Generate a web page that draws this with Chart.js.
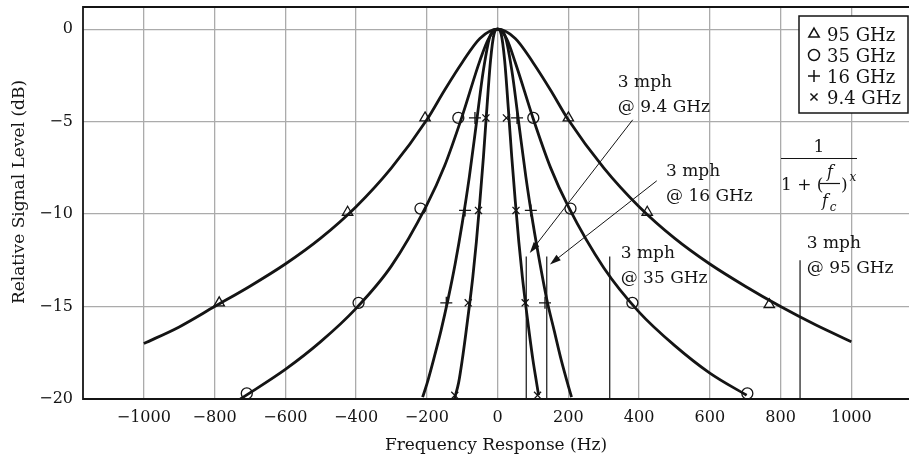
<!DOCTYPE html>
<html>
<head>
<meta charset="utf-8">
<script src="https://cdn.jsdelivr.net/npm/chart.js@4.4.1/dist/chart.umd.min.js"></script>
<style>
  html, body { margin: 0; padding: 0; background: #fff; }
  #wrap { width: 909px; height: 460px; }
</style>
</head>
<body>
<div id="wrap"><canvas id="chart" width="909" height="460"></canvas></div>
<script>
// axis ticks
const xTickValues = [-1000, -800, -600, -400, -200, 0, 200, 400, 600, 800, 1000];
const yTickValues = [-20, -15, -10, -5, 0];

// 95 GHz curve (triangles)
const freq95 = [-1000, -900, -800, -700, -600, -500, -400, -300, -200, -150, -100, -50, 0, 50, 100, 150, 200, 300, 400, 500, 600, 700, 800, 900, 1000];
const level95 = [-17.0, -16.1, -15.0, -13.9, -12.7, -11.3, -9.6, -7.5, -4.9, -3.3, -1.8, -0.5, 0, -0.5, -1.8, -3.3, -4.9, -7.5, -9.6, -11.3, -12.7, -13.9, -15.0, -16.0, -16.9];
const mark95X = [-787, -424, -205, 200, 423, 768];
const mark95Y = [-14.8, -9.9, -4.8, -4.8, -9.9, -14.9];

// 35 GHz curve (circles)
const freq35 = [-727, -600, -500, -400, -300, -200, -150, -100, -50, -25, 0, 25, 50, 100, 150, 200, 300, 400, 500, 600, 704];
const level35 = [-20.0, -18.4, -16.9, -15.1, -12.8, -9.5, -7.4, -4.7, -1.7, -0.5, 0, -0.5, -1.8, -4.8, -7.5, -9.6, -12.9, -15.3, -17.1, -18.6, -19.8];
const mark35X = [-709, -393, -218, -111, 101, 206, 381, 706];
const mark35Y = [-19.7, -14.8, -9.7, -4.8, -4.8, -9.7, -14.8, -19.7];

// 16 GHz curve (plus)
const freq16 = [-212, -200, -180, -160, -140, -120, -100, -80, -60, -40, -20, 0, 20, 40, 60, 80, 100, 120, 140, 160, 180, 200, 209];
const level16 = [-19.9, -19.2, -17.8, -16.3, -14.6, -12.7, -10.5, -8.0, -5.1, -2.2, -0.3, 0, -0.3, -2.2, -5.1, -8.0, -10.5, -12.7, -14.7, -16.3, -17.9, -19.3, -19.9];
const mark16X = [-145, -92, -64, 55, 94, 134];
const mark16Y = [-14.8, -9.8, -4.8, -4.8, -9.8, -14.8];

// 9.4 GHz curve (x)
const freq94 = [-122, -110, -100, -90, -80, -70, -60, -50, -40, -30, -20, -10, 0, 10, 20, 30, 40, 50, 60, 70, 80, 90, 100, 110, 116];
const level94 = [-20.0, -19.1, -17.9, -16.5, -15.0, -13.4, -11.5, -9.3, -6.9, -4.2, -1.7, -0.25, 0, -0.25, -1.7, -4.2, -6.9, -9.3, -11.5, -13.4, -15.0, -16.5, -17.9, -19.1, -19.8];
const mark94X = [-121, -83, -54, -33, 25, 52, 78, 113];
const mark94Y = [-19.8, -14.8, -9.8, -4.8, -4.8, -9.8, -14.8, -19.8];

// 3 mph doppler markers
const dopplerFreq = [81, 139, 317, 855];
const dopplerTop = [-12.3, -12.3, -12.3, -12.5];

const legendLabels = ['95 GHz', '35 GHz', '16 GHz', '9.4 GHz'];
const legendStyles = ['triangle', 'circle', 'cross', 'crossRot'];

const SERIF = "'DejaVu Serif', serif";
const INK = '#141414';

const toPoints = (xs, ys) => xs.map((x, i) => ({ x, y: ys[i] }));

function curve(xs, ys) {
    return {
        data: toPoints(xs, ys),
        showLine: true,
        borderColor: INK,
        borderWidth: 2.8,
        pointRadius: 0,
        cubicInterpolationMode: 'monotone'
    };
}

function markers(xs, ys, style, radius) {
    return {
        data: toPoints(xs, ys),
        showLine: false,
        pointStyle: style,
        pointRadius: radius,
        pointBorderColor: INK,
        pointBackgroundColor: 'rgba(0,0,0,0)',
        pointBorderWidth: 1.3,
        clip: false
    };
}

const datasets = [
    curve(freq95, level95),
    curve(freq35, level35),
    curve(freq16, level16),
    curve(freq94, level94),
    ...dopplerFreq.map((f, i) => ({
        data: [{ x: f, y: -20 }, { x: f, y: dopplerTop[i] }],
        showLine: true,
        borderColor: INK,
        borderWidth: 1.2,
        pointRadius: 0
    })),
    markers(mark95X, mark95Y, 'triangle', 6),
    markers(mark35X, mark35Y, 'circle', 5.5),
    markers(mark16X, mark16Y, 'cross', 6),
    markers(mark94X, mark94Y, 'crossRot', 5)
];

// text callouts, in data units
const callouts = [
    { lines: ['3 mph', '@ 9.4 GHz'], x: 340, y: -3.11 },
    { lines: ['3 mph', '@ 16 GHz'], x: 476, y: -7.95 },
    { lines: ['3 mph', '@ 35 GHz'], x: 348, y: -12.39 },
    { lines: ['3 mph', '@ 95 GHz'], x: 874, y: -11.85 }
];
const arrows = [
    { from: [382, -4.9], to: [91, -12.1] },
    { from: [450, -8.2], to: [148, -12.72] }
];

function drawMarker(ctx, style, x, y) {
    Chart.helpers.drawPoint(ctx, { pointStyle: style, radius: style === 'crossRot' ? 5 : (style === 'circle' ? 5.5 : 6), rotation: 0, borderWidth: 1.3 }, x, y);
}

const figurePlugin = {
    id: 'figure',
    afterDraw(chart) {
        const { ctx, chartArea: a, scales } = chart;
        const px = v => scales.x.getPixelForValue(v);
        const py = v => scales.y.getPixelForValue(v);
        ctx.save();

        // frame
        ctx.strokeStyle = INK;
        ctx.lineWidth = 1.8;
        ctx.beginPath();
        ctx.moveTo(a.right + 2, a.top);
        ctx.lineTo(a.left, a.top);
        ctx.lineTo(a.left, a.bottom);
        ctx.lineTo(a.right + 2, a.bottom);
        ctx.stroke();

        // callouts
        ctx.fillStyle = INK;
        ctx.font = '17px ' + SERIF;
        ctx.textAlign = 'left';
        ctx.textBaseline = 'alphabetic';
        callouts.forEach(c => {
            c.lines.forEach((t, i) => ctx.fillText(t, px(c.x), py(c.y) + i * 25));
        });

        // arrows
        ctx.lineWidth = 1;
        arrows.forEach(ar => {
            const x0 = px(ar.from[0]), y0 = py(ar.from[1]);
            const x1 = px(ar.to[0]), y1 = py(ar.to[1]);
            const ang = Math.atan2(y1 - y0, x1 - x0);
            ctx.beginPath();
            ctx.moveTo(x0, y0);
            ctx.lineTo(x1 - 8 * Math.cos(ang), y1 - 8 * Math.sin(ang));
            ctx.stroke();
            ctx.beginPath();
            ctx.moveTo(x1, y1);
            ctx.lineTo(x1 - 11 * Math.cos(ang) + 3.5 * Math.sin(ang), y1 - 11 * Math.sin(ang) - 3.5 * Math.cos(ang));
            ctx.lineTo(x1 - 11 * Math.cos(ang) - 3.5 * Math.sin(ang), y1 - 11 * Math.sin(ang) + 3.5 * Math.cos(ang));
            ctx.closePath();
            ctx.fill();
        });

        // legend box
        const lx = 799, ly = 16, lw = 110, lh = 97;
        ctx.fillStyle = '#fff';
        ctx.fillRect(lx, ly, lw, lh);
        ctx.lineWidth = 1.5;
        ctx.strokeRect(lx, ly, lw - 1, lh);
        ctx.font = '18px ' + SERIF;
        legendLabels.forEach((t, i) => {
            const cy = 34 + i * 21;
            ctx.strokeStyle = INK;
            ctx.fillStyle = 'rgba(0,0,0,0)';
            drawMarker(ctx, legendStyles[i], 814, cy);
            ctx.fillStyle = INK;
            ctx.fillText(t, 827, cy + 7);
        });

        // formula 1 / (1 + (f/fc)^x)
        ctx.fillStyle = INK;
        ctx.strokeStyle = INK;
        ctx.font = '17px ' + SERIF;
        ctx.textAlign = 'center';
        ctx.fillText('1', 819, 152);
        ctx.lineWidth = 1.2;
        ctx.beginPath();
        ctx.moveTo(781, 158.5);
        ctx.lineTo(857, 158.5);
        ctx.stroke();
        ctx.textAlign = 'left';
        ctx.fillText('1 + (', 781, 190);
        ctx.fillText(')', 841, 190);
        ctx.beginPath();
        ctx.moveTo(820, 183.5);
        ctx.lineTo(840, 183.5);
        ctx.stroke();
        ctx.font = 'italic 16px ' + SERIF;
        ctx.textAlign = 'center';
        ctx.fillText('f', 830, 177);
        ctx.fillText('f', 825, 206);
        ctx.font = 'italic 12px ' + SERIF;
        ctx.fillText('c', 833, 211);
        ctx.fillText('x', 853, 181);

        // y axis title
        ctx.font = '17px ' + SERIF;
        ctx.translate(20, 192);
        ctx.rotate(-Math.PI / 2);
        ctx.textAlign = 'center';
        ctx.textBaseline = 'middle';
        ctx.fillText('Relative Signal Level (dB)', 0, 0);
        ctx.restore();
    }
};

Chart.defaults.font.family = SERIF;
Chart.defaults.color = INK;

const fmt = v => (v < 0 ? '\u2212' + Math.abs(v) : String(v));

new Chart(document.getElementById('chart').getContext('2d'), {
    type: 'scatter',
    data: { datasets },
    options: {
        responsive: false,
        devicePixelRatio: 1,
        animation: false,
        layout: { autoPadding: false, padding: { top: 7, right: 0, left: 0, bottom: 0 } },
        plugins: { legend: { display: false }, tooltip: { enabled: false } },
        scales: {
            x: {
                type: 'linear',
                min: -1172,
                max: 1163,
                afterBuildTicks: s => { s.ticks = xTickValues.map(value => ({ value })); },
                afterFit: s => { s.height = 61; s.paddingLeft = 0; s.paddingRight = 0; },
                grid: { color: '#ababab', lineWidth: 1.3, drawTicks: false },
                border: { display: false },
                ticks: { padding: 9, font: { size: 16 }, callback: fmt, maxRotation: 0 },
                title: { display: true, text: 'Frequency Response (Hz)', font: { size: 17 }, padding: { top: 6 } }
            },
            y: {
                type: 'linear',
                min: -20,
                max: 1.2,
                afterBuildTicks: s => { s.ticks = yTickValues.map(value => ({ value })); },
                afterFit: s => { s.width = 83; s.paddingTop = 0; s.paddingBottom = 0; },
                grid: { color: '#ababab', lineWidth: 1.3, drawTicks: false },
                border: { display: false },
                ticks: { padding: 10, font: { size: 16 }, callback: fmt }
            }
        }
    },
    plugins: [figurePlugin]
});
</script>
</body>
</html>
